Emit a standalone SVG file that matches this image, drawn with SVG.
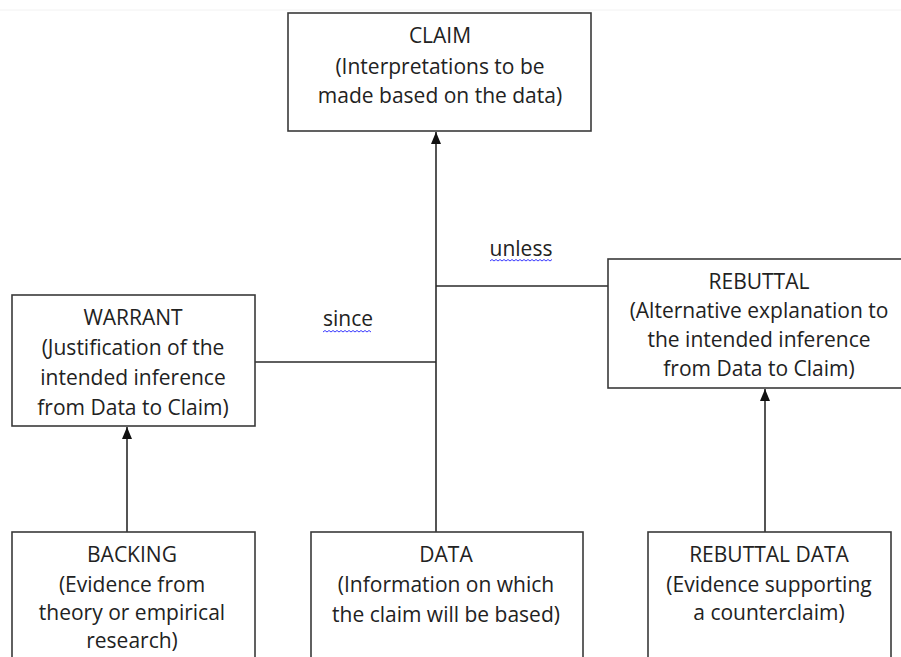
<svg xmlns="http://www.w3.org/2000/svg" width="901" height="657" viewBox="0 0 901 657">
<defs>
<marker id="arr" viewBox="0 0 12 10" refX="12" refY="5" markerWidth="12" markerHeight="10" markerUnits="userSpaceOnUse" orient="auto">
<path d="M0,0 L12,5 L0,10 Z" fill="#111"/>
</marker>
<style>
.box{fill:#fff;stroke:#3a3a3a;stroke-width:1.6}
.ln{fill:none;stroke:#2a2a2a;stroke-width:1.6}
.t{font-family:"Open Sans","Liberation Sans",sans-serif;font-size:21px;fill:#222;text-anchor:middle}
.sq{fill:none;stroke:#3a3aff;stroke-width:1}
</style>
</defs>
<rect width="901" height="657" fill="#fff"/>
<line x1="0" y1="10" x2="901" y2="10" stroke="#f2f2f2" stroke-width="1"/>
<g id="connectors">
<line class="ln" x1="436" y1="532" x2="436" y2="132" marker-end="url(#arr)"/>
<line class="ln" x1="255" y1="362" x2="436" y2="362"/>
<line class="ln" x1="436" y1="286" x2="608" y2="286"/>
<line class="ln" x1="127" y1="532" x2="127" y2="427" marker-end="url(#arr)"/>
<line class="ln" x1="765" y1="532" x2="765" y2="389" marker-end="url(#arr)"/>
<text class="t" x="348" y="326">since</text>
<path class="sq" d="M323,332 l2,-1.5 l2,1.5 l2,-1.5 l2,1.5 l2,-1.5 l2,1.5 l2,-1.5 l2,1.5 l2,-1.5 l2,1.5 l2,-1.5 l2,1.5 l2,-1.5 l2,1.5 l2,-1.5 l2,1.5 l2,-1.5 l2,1.5 l2,-1.5 l2,1.5 l2,-1.5 l2,1.5 l2,-1.5 l2,1.5"/>
<text class="t" x="521" y="256">unless</text>
<path class="sq" d="M490,261 l2,-1.5 l2,1.5 l2,-1.5 l2,1.5 l2,-1.5 l2,1.5 l2,-1.5 l2,1.5 l2,-1.5 l2,1.5 l2,-1.5 l2,1.5 l2,-1.5 l2,1.5 l2,-1.5 l2,1.5 l2,-1.5 l2,1.5 l2,-1.5 l2,1.5 l2,-1.5 l2,1.5 l2,-1.5 l2,1.5 l2,-1.5 l2,1.5 l2,-1.5 l2,1.5 l2,-1.5 l2,1.5 l2,-1.5"/>
</g>
<g id="claim">
<rect class="box" x="288" y="13" width="303" height="118"/>
<text class="t" x="440" y="43">CLAIM</text>
<text class="t" x="440" y="74">(Interpretations to be</text>
<text class="t" x="440" y="103">made based on the data)</text>
</g>
<g id="warrant">
<rect class="box" x="12" y="295" width="243" height="131"/>
<text class="t" x="133" y="325">WARRANT</text>
<text class="t" x="133" y="355">(Justification of the</text>
<text class="t" x="133" y="385">intended inference</text>
<text class="t" x="133" y="415">from Data to Claim)</text>
</g>
<g id="rebuttal">
<rect class="box" x="608" y="259" width="300" height="129"/>
<text class="t" x="759" y="289">REBUTTAL</text>
<text class="t" x="759" y="318">(Alternative explanation to</text>
<text class="t" x="759" y="347">the intended inference</text>
<text class="t" x="759" y="376">from Data to Claim)</text>
</g>
<g id="backing">
<rect class="box" x="12" y="532" width="243" height="140"/>
<text class="t" x="132" y="562">BACKING</text>
<text class="t" x="132" y="592">(Evidence from</text>
<text class="t" x="132" y="620">theory or empirical</text>
<text class="t" x="132" y="648">research)</text>
</g>
<g id="data">
<rect class="box" x="311" y="532" width="272" height="140"/>
<text class="t" x="446" y="562">DATA</text>
<text class="t" x="446" y="592">(Information on which</text>
<text class="t" x="446" y="622">the claim will be based)</text>
</g>
<g id="rebuttal-data">
<rect class="box" x="648" y="532" width="243" height="140"/>
<text class="t" x="769" y="562">REBUTTAL DATA</text>
<text class="t" x="769" y="592">(Evidence supporting</text>
<text class="t" x="769" y="620">a counterclaim)</text>
</g>
</svg>
